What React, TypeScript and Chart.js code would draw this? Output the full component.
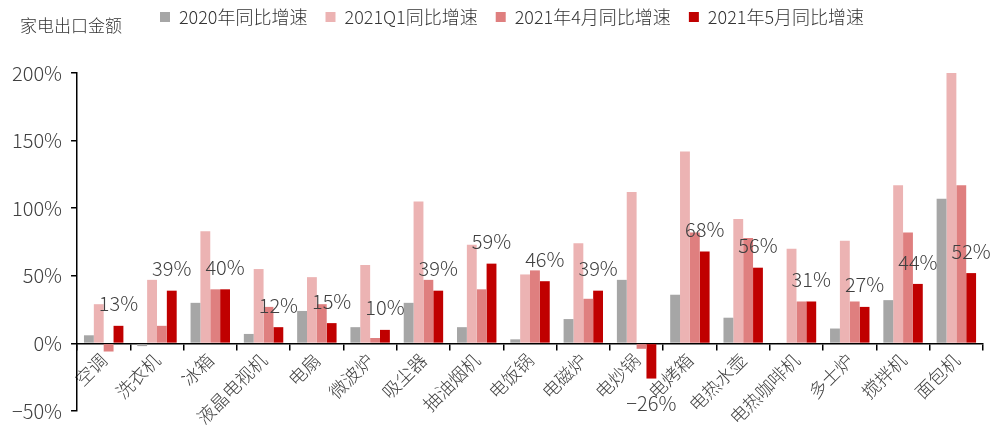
import React, { useEffect, useRef } from "react";
import { Chart, registerables } from "chart.js";

Chart.register(...registerables);

const categories = ["空调", "洗衣机", "冰箱", "液晶电视机", "电扇", "微波炉", "吸尘器", "抽油烟机", "电饭锅", "电磁炉", "电炒锅", "电烤箱", "电热水壶", "电热咖啡机", "多士炉", "搅拌机", "面包机"];
const growth2020 = [6, -2, 30, 7, 24, 12, 30, 12, 3, 18, 47, 36, 19, 0.5, 11, 32, 107];
const growth2021Q1 = [29, 47, 83, 55, 49, 58, 105, 73, 51, 74, 112, 142, 92, 70, 76, 117, 200];
const growth2021Apr = [-6, 13, 40, 27, 29, 4, 47, 40, 54, 33, -4, 82, 78, 31, 31, 82, 117];
const growth2021May = [13, 39, 40, 12, 15, 10, 39, 59, 46, 39, -26, 68, 56, 31, 27, 44, 52];
const seriesNames = ["2020年同比增速", "2021Q1同比增速", "2021年4月同比增速", "2021年5月同比增速"];
const yTicks = [-50, 0, 50, 100, 150, 200];

const FONT = "'Noto Sans CJK SC', 'Noto Sans', sans-serif";
const TEXT = "#404040";

const fmt = (v: number) => `${v < 0 ? "\u2212" : ""}${Math.abs(v)}%`;

const labelPlugin = {
  id: "mayLabels",
  afterDatasetsDraw(chart: any) {
    const meta = chart.getDatasetMeta(3);
    const ctx = chart.ctx;
    ctx.save();
    ctx.font = `300 20px ${FONT}`;
    ctx.fillStyle = TEXT;
    ctx.textAlign = "center";
    ctx.textBaseline = "middle";
    meta.data.forEach((bar: any, i: number) => {
      const v = growth2021May[i];
      const y = v >= 0 ? bar.y - 22 : bar.y + 25;
      ctx.fillText(fmt(v), bar.x, y);
    });
    ctx.restore();
  },
};

const legendSpacePlugin = {
  id: "legendSpace",
  beforeInit(chart: any) {
    const legend = chart.legend;
    if (!legend) return;
    const origFit = legend.fit;
    legend.fit = function () {
      origFit.call(this);
      this.height += 37;
    };
  },
  afterLayout(chart: any) {
    const legend = chart.legend;
    if (!legend) return;
    legend.left += 19;
    legend.right += 19;
  },
};

export default function App() {
  const ref = useRef<HTMLCanvasElement>(null);
  useEffect(() => {
    if (!ref.current) return;
    const colors = ["#A6A6A6", "#ECB3B3", "#DF7F7F", "#C00000"];
    const values = [growth2020, growth2021Q1, growth2021Apr, growth2021May];
    const chart = new Chart(ref.current, {
      type: "bar",
      data: {
        labels: categories,
        datasets: values.map((d, i) => ({
          label: seriesNames[i],
          data: d,
          backgroundColor: colors[i],
          borderWidth: 0,
          categoryPercentage: 0.74,
          barPercentage: 1,
        })),
      },
      options: {
        animation: false,
        responsive: true,
        maintainAspectRatio: false,
        layout: { padding: { left: 3, right: 8, top: -10, bottom: 8 } },
        plugins: {
          legend: {
            position: "top",
            align: "center",
            labels: {
              boxWidth: 10,
              boxHeight: 10,
              padding: 18,
              color: "#333",
              font: { size: 18, family: FONT, weight: "300" as any },
            },
          },
          tooltip: { enabled: false },
        },
        scales: {
          x: {
            position: { y: 0 } as any,
            grid: { drawOnChartArea: false, offset: true, tickLength: 6, color: "#000", lineWidth: 1.5 },
            border: { display: true, color: "#000", width: 1.5 },
            ticks: {
              maxRotation: 45,
              minRotation: 45,
              autoSkip: false,
              color: TEXT,
              font: { size: 18, family: FONT, weight: "300" as any },
              padding: 0,
            },
          },
          y: {
            min: -50,
            max: 200,
            afterBuildTicks: (axis: any) => {
              axis.ticks = yTicks.map((v) => ({ value: v }));
            },
            grid: { drawOnChartArea: false, tickLength: 6, color: "#000", lineWidth: 1.5 },
            border: { display: true, color: "#000", width: 1.5 },
            ticks: {
              color: TEXT,
              font: { size: 20, family: FONT, weight: "300" as any, lineHeight: 1 },
              padding: 9,
              callback: (v: any) => fmt(Number(v)),
            },
          },
        },
      },
      plugins: [labelPlugin, legendSpacePlugin],
    });
    return () => chart.destroy();
  }, []);

  return (
    <div style={{ position: "absolute", left: 0, top: 0, width: 991, height: 430, background: "#fff" }}>
      <canvas ref={ref} />
      <div
        style={{
          position: "absolute",
          left: 20,
          top: 14,
          fontFamily: FONT,
          fontWeight: 300,
          fontSize: 17,
          color: "#333",
          lineHeight: "22px",
        }}
      >
        家电出口金额
      </div>
    </div>
  );
}
